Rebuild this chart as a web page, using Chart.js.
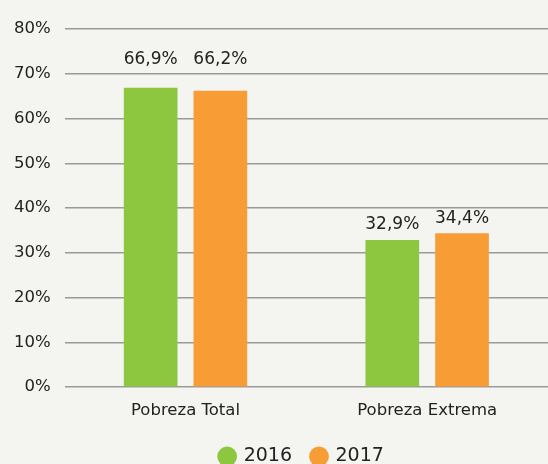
<!DOCTYPE html>
<html><head><meta charset="utf-8">
<script src="https://cdn.jsdelivr.net/npm/chart.js@4/dist/chart.umd.min.js"></script>
<style>html,body{margin:0;padding:0;background:#f4f4f0;}#wrap{width:548px;height:464px;}</style>
</head><body><div id="wrap"><canvas id="c" width="548" height="464"></canvas></div>
<script>
const categories = ["Pobreza Total", "Pobreza Extrema"];
const series2016 = [66.9, 32.9];
const series2017 = [66.2, 34.4];
const seriesNames = ["2016", "2017"];
const yTicks = [0,10,20,30,40,50,60,70,80];

const FONT = "'DejaVu Sans', sans-serif";
const labelPlugin = {
  id: 'barLabels',
  afterLayout(chart) {
    const l = chart.legend;
    if (l) { l.left += 28; l.right += 28; }
  },
  afterDatasetsDraw(chart) {
    const ctx = chart.ctx;
    const ys = chart.scales.y;
    const grid = yTicks.map(v => ys.getPixelForValue(v));
    ctx.save();
    ctx.font = "17px " + FONT;
    ctx.fillStyle = "#222";
    ctx.textAlign = "center";
    ctx.textBaseline = "middle";
    chart.data.datasets.forEach((ds, di) => {
      chart.getDatasetMeta(di).data.forEach((bar, i) => {
        let y = bar.y - 15;
        for (const g of grid) { if (Math.abs(g - y) < 9) y = g - 14; }
        ctx.fillText(String(ds.data[i]).replace('.', ',') + '%', bar.x, y);
      });
    });
    ctx.restore();
  }
};

new Chart(document.getElementById('c'), {
  type: 'bar',
  data: {
    labels: categories,
    datasets: [
      { label: seriesNames[0], data: series2016, backgroundColor: '#8dc63f', categoryPercentage: 0.577, barPercentage: 0.77 },
      { label: seriesNames[1], data: series2017, backgroundColor: '#f89c36', categoryPercentage: 0.577, barPercentage: 0.77 }
    ]
  },
  options: {
    responsive: false,
    animation: false,
    layout: { padding: { top: 29, left: 0, right: 0, bottom: -12 } },
    plugins: {
      legend: {
        position: 'bottom',
        labels: { usePointStyle: true, pointStyle: 'circle', boxWidth: 14, boxHeight: 14, padding: 20, color: '#222', font: { family: FONT, size: 19 } }
      },
      tooltip: { enabled: false }
    },
    scales: {
      x: {
        grid: { display: false },
        border: { display: false },
        ticks: { color: '#222', font: { family: FONT, size: 16.5 }, padding: 6 }
      },
      y: {
        min: 0, max: 80,
        afterBuildTicks(axis) { axis.ticks = yTicks.map(v => ({ value: v })); },
        grid: { color: '#9a9a9a', lineWidth: 1.5, drawTicks: false },
        border: { display: false },
        ticks: { color: '#222', padding: 14, font: { family: FONT, size: 16.5 }, callback: v => v + '%' }
      }
    }
  },
  plugins: [labelPlugin]
});
</script></body></html>
